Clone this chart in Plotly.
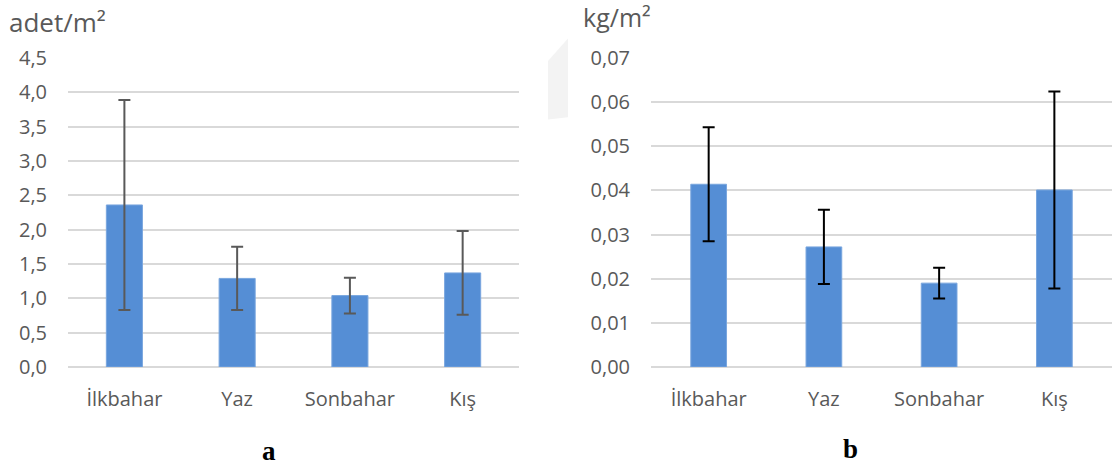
import plotly.graph_objects as go

# Seasons shared by both panels
seasons = ["İlkbahar", "Yaz", "Sonbahar", "Kış"]

# Panel a: density (adet/m²), mean and standard deviation
density_mean = [2.36, 1.29, 1.04, 1.37]
density_sd = [1.53, 0.46, 0.26, 0.61]
density_ticks = [0, 0.5, 1.0, 1.5, 2.0, 2.5, 3.0, 3.5, 4.0, 4.5]
density_ticktext = ["0,0", "0,5", "1,0", "1,5", "2,0", "2,5", "3,0", "3,5", "4,0", "4,5"]

# Panel b: biomass (kg/m²), mean and standard deviation
biomass_mean = [0.0414, 0.0272, 0.0190, 0.0401]
biomass_sd = [0.0129, 0.0084, 0.0035, 0.0223]
biomass_ticks = [0, 0.01, 0.02, 0.03, 0.04, 0.05, 0.06, 0.07]
biomass_ticktext = ["0,00", "0,01", "0,02", "0,03", "0,04", "0,05", "0,06", "0,07"]

BAR = "#558ED5"
TXT = "#595959"
GRID = "#D9D9D9"
FONT = "Open Sans"
W, H = 1115, 469

fig = go.Figure()

fig.add_trace(go.Bar(
    x=seasons, y=density_mean, width=0.32,
    marker=dict(color=BAR, line=dict(color="#79A6DE", width=1)),
    error_y=dict(type="data", array=density_sd, visible=True,
                 color="#595959", thickness=2, width=6),
    xaxis="x", yaxis="y", showlegend=False,
))

fig.add_trace(go.Bar(
    x=seasons, y=biomass_mean, width=0.31,
    marker=dict(color=BAR, line=dict(color="#79A6DE", width=1)),
    error_y=dict(type="data", array=biomass_sd, visible=True,
                 color="#000000", thickness=2, width=6),
    xaxis="x2", yaxis="y2", showlegend=False,
))

ydom = [0.2175, 0.8763]
tickfont = dict(family=FONT, size=20, color=TXT)

common_x = dict(showgrid=False, showline=False, zeroline=False,
                ticks="outside", ticklen=14, tickcolor="rgba(0,0,0,0)",
                tickfont=tickfont, fixedrange=True, automargin=False)
common_y = dict(showgrid=True, gridcolor=GRID, gridwidth=1.5,
                zeroline=True, zerolinecolor=GRID, zerolinewidth=1.5,
                showline=False, ticks="outside", ticklen=16,
                tickcolor="rgba(0,0,0,0)", tickfont=tickfont, domain=ydom,
                automargin=False, fixedrange=True)


def px_ann(text, x, y, font, xanchor="left"):
    # annotation placed by pixel position within the figure
    return dict(text=text, x=x / W, y=1 - y / H, xref="paper", yref="paper",
                showarrow=False, xanchor=xanchor, yanchor="middle", font=font)


fig.update_layout(
    template="none",
    width=W, height=H,
    autosize=False,
    margin=dict(l=0, r=0, t=0, b=0, pad=0, autoexpand=False),
    paper_bgcolor="white", plot_bgcolor="white",
    showlegend=False,
    xaxis=dict(domain=[0.061, 0.4655], anchor="y", **common_x),
    yaxis=dict(anchor="x", range=[0, 4.5], tickvals=density_ticks,
               ticktext=density_ticktext, **common_y),
    xaxis2=dict(domain=[0.5839, 0.9973], anchor="y2", **common_x),
    yaxis2=dict(anchor="x2", range=[0, 0.07], tickvals=biomass_ticks,
                ticktext=biomass_ticktext, **common_y),
    shapes=[dict(type="path", xref="paper", yref="paper",
                 path="M 0.4915,0.87 L 0.5094,0.918 L 0.5094,0.75 L 0.4915,0.745 Z",
                 fillcolor="#F3F3F3", line=dict(width=0), layer="below")],
    annotations=[
        px_ann("adet/m²", 7, 22, dict(family=FONT, size=26, color=TXT)),
        px_ann("kg/m²", 581, 17, dict(family=FONT, size=25, color=TXT)),
        px_ann("<b>a</b>", 269, 451,
               dict(family="Liberation Serif", size=27, color="#000000"), "center"),
        px_ann("<b>b</b>", 850, 449,
               dict(family="Liberation Serif", size=27, color="#000000"), "center"),
    ],
)

fig.write_html("out.html")
